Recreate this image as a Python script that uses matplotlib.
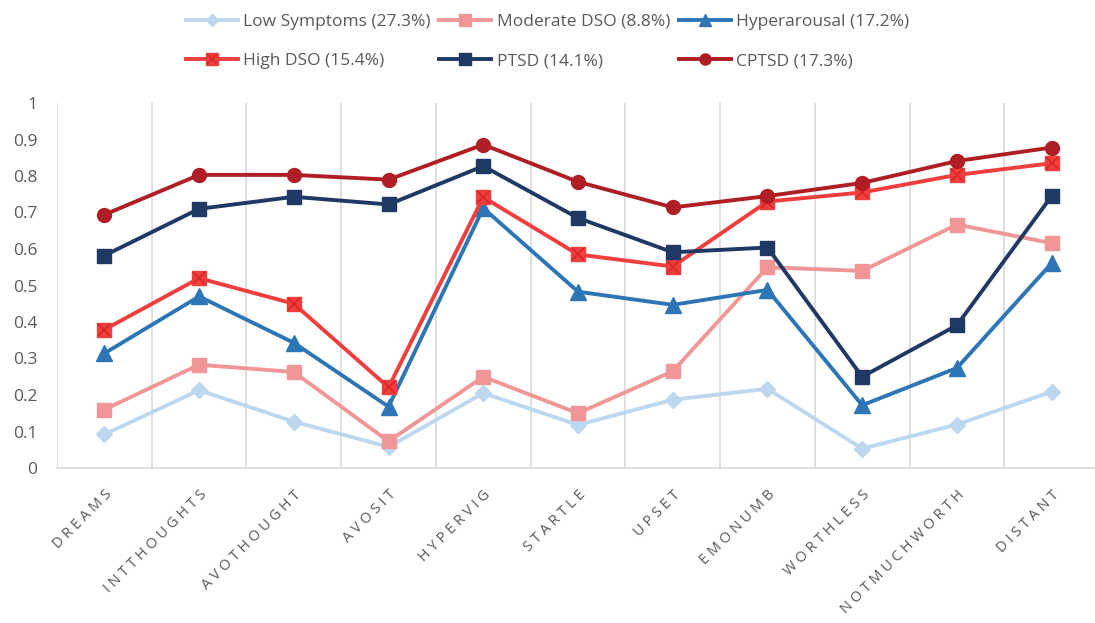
import matplotlib
matplotlib.use("Agg")
import matplotlib.pyplot as plt
from matplotlib.legend_handler import HandlerTuple

plt.rcParams['font.family'] = ['Open Sans', 'DejaVu Sans']

categories = ["DREAMS", "INTTHOUGHTS", "AVOTHOUGHT", "AVOSIT", "HYPERVIG", "STARTLE",
              "UPSET", "EMONUMB", "WORTHLESS", "NOTMUCHWORTH", "DISTANT"]

low_symptoms = [0.092, 0.213, 0.127, 0.058, 0.205, 0.118, 0.187, 0.217, 0.053, 0.119, 0.209]
moderate_dso = [0.160, 0.283, 0.263, 0.073, 0.250, 0.150, 0.265, 0.550, 0.540, 0.667, 0.616]
hyperarousal = [0.314, 0.470, 0.343, 0.168, 0.712, 0.483, 0.447, 0.488, 0.172, 0.274, 0.561]
high_dso = [0.379, 0.520, 0.450, 0.221, 0.742, 0.585, 0.552, 0.730, 0.755, 0.803, 0.835]
ptsd = [0.582, 0.710, 0.743, 0.722, 0.827, 0.685, 0.591, 0.604, 0.250, 0.391, 0.745]
cptsd = [0.694, 0.803, 0.803, 0.790, 0.886, 0.784, 0.714, 0.745, 0.781, 0.841, 0.878]

labels = ["Low Symptoms (27.3%)", "Moderate DSO (8.8%)", "Hyperarousal (17.2%)",
          "High DSO (15.4%)", "PTSD (14.1%)", "CPTSD (17.3%)"]
yticks = [0, 0.1, 0.2, 0.3, 0.4, 0.5, 0.6, 0.7, 0.8, 0.9, 1]
ytick_labels = ["0", "0.1", "0.2", "0.3", "0.4", "0.5", "0.6", "0.7", "0.8", "0.9", "1"]

c_low = "#BDD7EE"
c_mod = "#F09696"
c_hyp = "#2E75B6"
c_high = "#F03E3E"
c_ptsd = "#1F3864"
c_cptsd = "#AE1E24"
txt = "#595959"
grid = "#D9D9D9"

fig = plt.figure(figsize=(10.95, 6.23), dpi=100)
ax = fig.add_axes([57/1095, 1 - 468/623, (1099-57)/1095, (468-103)/623])

x = list(range(len(categories)))
lw = 2.8
h_low, = ax.plot(x, low_symptoms, color=c_low, lw=lw, marker="D", ms=8, zorder=3)
h_mod, = ax.plot(x, moderate_dso, color=c_mod, lw=lw, marker="s", ms=10, zorder=3)
h_hyp, = ax.plot(x, hyperarousal, color=c_hyp, lw=lw, marker="^", ms=11, zorder=4)
h_high, = ax.plot(x, high_dso, color=c_high, lw=lw, marker="s", ms=10, zorder=5)
h_highx, = ax.plot(x, high_dso, color="#D92626", lw=0, marker="x", ms=9, mew=1.3, zorder=6)
h_ptsd, = ax.plot(x, ptsd, color=c_ptsd, lw=lw, marker="s", ms=10, zorder=5)
h_cptsd, = ax.plot(x, cptsd, color=c_cptsd, lw=lw, marker="o", ms=10, zorder=6)

ax.set_ylim(0, 1)
ax.set_xlim(-0.5, 10.5)
ax.set_yticks(yticks)
ax.set_yticklabels(ytick_labels)
ax.set_xticks(x)
ax.set_xticklabels([" ".join(c) for c in categories])
ax.set_xticks([i + 0.5 for i in range(-1, 11)], minor=True)
ax.grid(True, which="minor", axis="x", color=grid, lw=1.2)
ax.tick_params(which="both", length=0)
ax.tick_params(axis="y", labelsize=12.5, labelcolor=txt, pad=14)
ax.tick_params(axis="x", labelsize=10.5, labelcolor=txt, pad=14)
for s in ["top", "right", "left"]:
    ax.spines[s].set_visible(False)
ax.spines["bottom"].set_color(grid)
ax.spines["bottom"].set_linewidth(1.2)

for lab in ax.get_xticklabels():
    lab.set_rotation(45)
    lab.set_ha("right")
    lab.set_va("top")
    lab.set_rotation_mode("anchor")

handles = [h_low, (h_high, h_highx), h_mod, h_ptsd, h_hyp, h_cptsd]
leg_labels = [labels[0], labels[3], labels[1], labels[4], labels[2], labels[5]]
leg = fig.legend(handles, leg_labels, ncol=3, loc="upper center", bbox_to_anchor=(0.5, 1.003),
                 frameon=False, fontsize=12.5, handlelength=3.0, handletextpad=0.3,
                 columnspacing=0.5, labelspacing=1.35, markerscale=0.8,
                 handler_map={tuple: HandlerTuple(ndivide=1)})
for t in leg.get_texts():
    t.set_color(txt)

fig.savefig("out.png", dpi=100)
